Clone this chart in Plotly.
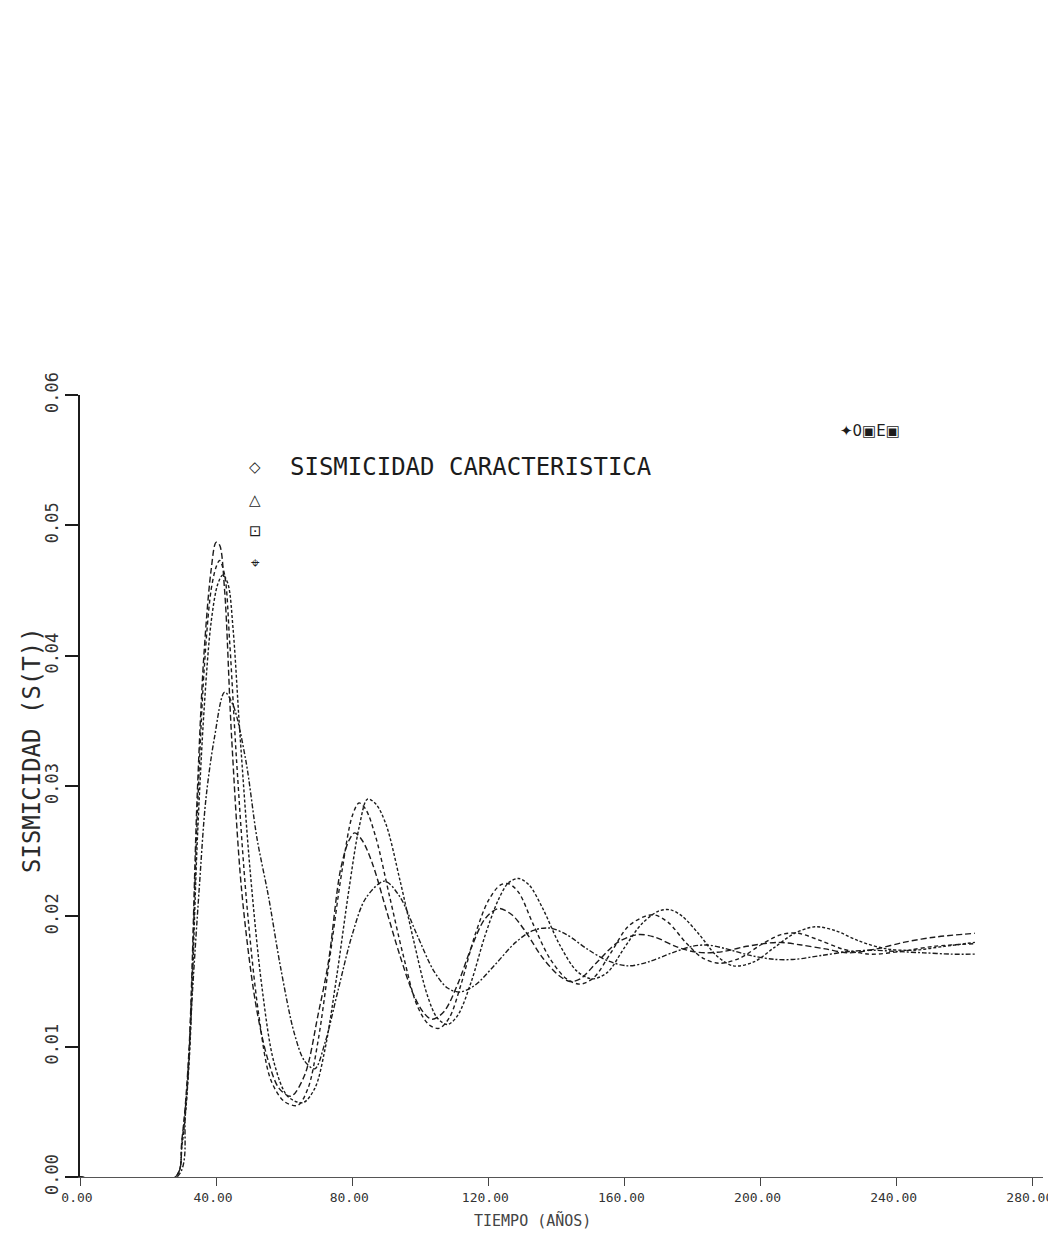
import plotly.graph_objects as go

# ---- data ----
x_ticks = [0, 40, 80, 120, 160, 200, 240, 280]
x_ticklabels = ["0.00", "40.00", "80.00", "120.00", "160.00", "200.00", "240.00", "280.00"]
y_ticks = [0.00, 0.01, 0.02, 0.03, 0.04, 0.05, 0.06]
y_ticklabels = ["0.00", "0.01", "0.02", "0.03", "0.04", "0.05", "0.06"]

c1_x = [0, 28, 30, 32, 34.4, 36.4, 38.5, 40, 41, 42.5, 44.5, 47.5, 51.5, 55, 58.5, 62, 66, 70, 73, 76.5, 79, 80.7, 83, 86, 90, 94, 98, 101, 103.5, 107, 111, 115, 119, 123, 127, 131, 136, 141, 144, 147, 152, 158, 164, 169, 175, 180, 184, 189, 196, 205, 212, 219, 226, 234, 242, 251, 263]
c1_y = [0, 0, 0.003, 0.0096, 0.029, 0.040, 0.0465, 0.0487, 0.0485, 0.045, 0.034, 0.022, 0.0135, 0.0092, 0.0068, 0.0062, 0.0078, 0.0125, 0.0165, 0.0235, 0.0258, 0.0264, 0.0258, 0.0240, 0.0205, 0.0170, 0.0140, 0.0126, 0.0121, 0.0127, 0.0148, 0.0176, 0.0198, 0.0206, 0.0201, 0.0188, 0.0168, 0.0154, 0.0150, 0.0152, 0.0165, 0.0180, 0.0186, 0.0184, 0.0177, 0.0173, 0.0172, 0.0173, 0.0177, 0.0180, 0.0178, 0.0175, 0.0172, 0.0175, 0.0180, 0.0184, 0.0187]

c2_x = [0, 28, 30, 32, 34.5, 36.5, 38.5, 40, 41, 42.5, 44, 46, 49, 52.5, 56, 60, 64, 67, 70, 73.5, 77, 80, 82, 84, 87, 91, 95, 99, 102.5, 105.5, 108.5, 112, 116, 120, 123.5, 126, 129, 133, 138, 143, 147, 151, 156, 161, 166, 169, 173, 178, 183, 188, 194, 200, 206, 211, 217, 224, 232, 241, 251, 263]
c2_y = [0, 0, 0.0028, 0.0092, 0.028, 0.039, 0.0450, 0.0468, 0.0473, 0.0462, 0.041, 0.032, 0.021, 0.0125, 0.0075, 0.0058, 0.0055, 0.0068, 0.0105, 0.017, 0.0235, 0.0277, 0.0287, 0.0282, 0.026, 0.0215, 0.017, 0.0132, 0.0117, 0.0114, 0.0122, 0.0148, 0.0185, 0.0212, 0.0224, 0.0225, 0.0218, 0.0195, 0.0168, 0.0152, 0.0148, 0.0153, 0.0172, 0.0192, 0.0200, 0.0201, 0.0195, 0.0180, 0.0168, 0.0164, 0.0168, 0.0178, 0.0186, 0.0187, 0.0182, 0.0175, 0.0171, 0.0173, 0.0177, 0.0179]

c3_x = [0, 28, 30, 32, 34.5, 36.5, 38.5, 40.5, 42, 43.5, 45, 47, 50, 53.5, 57, 61, 65.5, 69, 72, 75.5, 79, 82, 84.5, 87, 90, 94, 98, 102, 105, 108, 111, 115, 119, 123, 126, 129, 132, 136, 141, 146, 150.5, 155, 160, 165, 170, 173.5, 177, 182, 187, 192, 198, 204, 210, 216, 222, 229, 237, 245, 254, 263]
c3_y = [0, 0, 0.0025, 0.0085, 0.026, 0.036, 0.0425, 0.0455, 0.0462, 0.0455, 0.042, 0.034, 0.0235, 0.0145, 0.0088, 0.0062, 0.0057, 0.0068, 0.0098, 0.0155, 0.022, 0.0268, 0.0290, 0.0286, 0.0270, 0.0228, 0.0182, 0.0140, 0.0122, 0.0117, 0.0124, 0.0150, 0.0185, 0.0213, 0.0226, 0.0229, 0.0224, 0.0206, 0.0178, 0.0158, 0.0152, 0.0157, 0.0176, 0.0194, 0.0204, 0.0205, 0.0200, 0.0186, 0.0170, 0.0162, 0.0165, 0.0176, 0.0187, 0.0192, 0.0189, 0.0181, 0.0175, 0.0174, 0.0177, 0.0180]

c4_x = [0, 28.5, 31, 33, 35, 37, 39.5, 42.5, 45, 48.7, 52, 55.4, 59, 63, 66, 69, 72, 76, 80, 84, 89.5, 94, 99, 104, 108, 111.7, 116, 122, 128, 133, 138, 143, 149, 155, 161, 167, 174, 180, 184.5, 190, 197, 204, 210, 218, 226, 233, 240, 248, 256, 263]
c4_y = [0, 0, 0.005, 0.014, 0.022, 0.029, 0.0337, 0.0372, 0.0362, 0.032, 0.026, 0.0215, 0.016, 0.011, 0.0089, 0.0083, 0.0103, 0.0145, 0.0186, 0.0214, 0.0227, 0.0215, 0.0186, 0.0158, 0.0145, 0.0142, 0.0147, 0.0163, 0.0180, 0.0189, 0.0191, 0.0186, 0.0175, 0.0166, 0.0162, 0.0165, 0.0172, 0.0177, 0.0178, 0.0175, 0.0170, 0.0167, 0.0167, 0.0170, 0.0173, 0.0174, 0.0173, 0.0172, 0.0171, 0.0171]

series = [
    ("c1", c1_x, c1_y, "6px,3px"),
    ("c2", c2_x, c2_y, "4px,3px"),
    ("c3", c3_x, c3_y, "3px,2px"),
    ("c4", c4_x, c4_y, "5px,2px,2px,2px"),
]

legend_symbols = ["◇", "△", "⊡", "⌖"]
legend_title = "SISMICIDAD CARACTERISTICA"
corner_marks = "✦0▣E▣"
y_title = "SISMICIDAD (S(T))"
x_title = "TIEMPO (AÑOS)"

MONO = "DejaVu Sans Mono"
INK = "#1c1c1c"

fig = go.Figure()
for name, xs, ys, dash in series:
    fig.add_trace(go.Scatter(
        x=xs, y=ys, name=name, mode="lines",
        line=dict(color=INK, width=1.4, dash=dash, shape="spline", smoothing=0.9),
        hoverinfo="skip",
    ))

# figure sized so that it fits the window together with the page's 8px body margin
fig.update_layout(
    width=1048, height=1225,
    margin=dict(l=72, r=13, t=387, b=56, autoexpand=False),
    paper_bgcolor="white", plot_bgcolor="white",
    showlegend=False,
    font=dict(family=MONO, color=INK),
)

fig.update_xaxes(
    range=[0, 283], tickvals=x_ticks, ticktext=x_ticklabels,
    ticks="outside", ticklen=8, tickwidth=1, tickcolor="#444",
    showline=True, linecolor="#555", linewidth=1,
    showgrid=False, zeroline=False, automargin=False,
    ticklabeloverflow="allow", ticklabelshift=-3,
    tickfont=dict(family=MONO, size=13, color="#333"),
)
fig.update_yaxes(
    range=[0, 0.06], tickvals=y_ticks, ticktext=y_ticklabels,
    tickangle=-90,
    ticks="outside", ticklen=13, tickwidth=2, tickcolor=INK,
    showline=True, linecolor=INK, linewidth=2,
    showgrid=False, zeroline=False, automargin=False,
    ticklabeloverflow="allow",
    tickfont=dict(family=MONO, size=17, color="#333"),
)

# paper positions relative to plot area (x: 0..1 over 80..1043 px, y: 0..1 over 1177..395 px)
def px_x(p):
    return (p - 80) / 963.0

def px_y(p):
    return (1177 - p) / 782.0

legend_py = [467, 500, 531, 563]
for sym, py in zip(legend_symbols, legend_py):
    fig.add_annotation(xref="paper", yref="paper", x=px_x(255), y=px_y(py), text=sym,
                       showarrow=False, xanchor="center", yanchor="middle",
                       font=dict(family="DejaVu Sans", size=15, color=INK))
fig.add_annotation(xref="paper", yref="paper", x=px_x(288), y=px_y(467), text=legend_title,
                   showarrow=False, xanchor="left", yanchor="middle",
                   font=dict(family=MONO, size=24, color=INK))
fig.add_annotation(xref="paper", yref="paper", x=px_x(838), y=px_y(431), text=corner_marks,
                   showarrow=False, xanchor="left", yanchor="middle",
                   font=dict(family="DejaVu Sans", size=15, color=INK))
fig.add_annotation(xref="paper", yref="paper", x=px_x(32), y=px_y(750), text=y_title,
                   textangle=-90, showarrow=False, xanchor="center", yanchor="middle",
                   font=dict(family=MONO, size=24, color="#2a2a2a"))
fig.add_annotation(xref="paper", yref="paper", x=px_x(532), y=px_y(1220), text=x_title,
                   showarrow=False, xanchor="center", yanchor="middle",
                   font=dict(family=MONO, size=15, color="#444"))

fig.write_html("out.html")
